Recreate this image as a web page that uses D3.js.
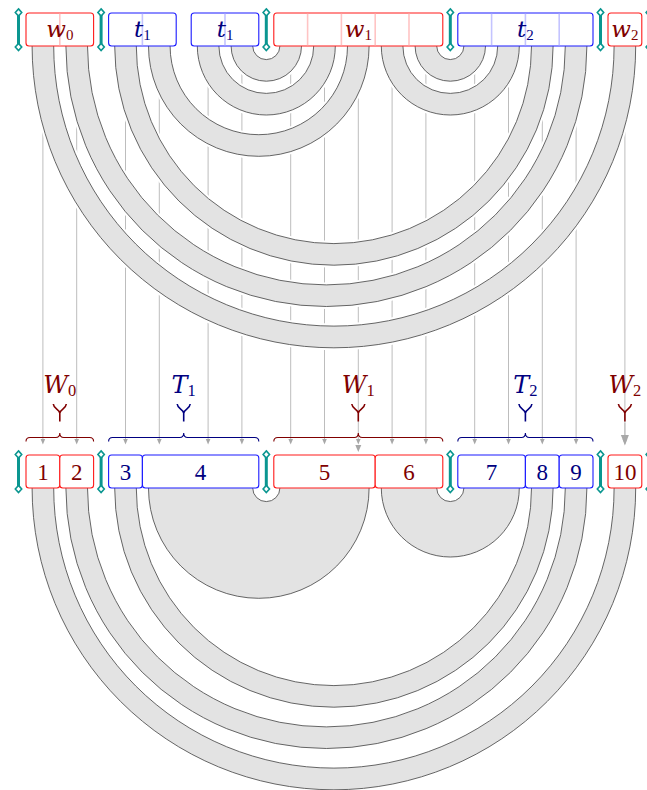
<!DOCTYPE html>
<html><head><meta charset="utf-8">
<script src="https://cdn.jsdelivr.net/npm/d3@7"></script>
<style>body{margin:0;background:#fff}svg{display:block}</style>
</head><body><svg id="c" width="647" height="790"></svg>
<script>
// ---------------- data ----------------
const groupKinds = ["w", "t", "w", "t", "w"];
const groupSubs = ["0", "1", "1", "2", "2"];
const topBlockCells = [[2], [2, 2], [5], [4], [1]];          // cells per top box, per group
const bottomBoxLabels = [["1", "2"], ["3", "4"], ["5", "6"], ["7", "8", "9"], ["10"]];
const bottomBoxCells = [[1, 1], [1, 3], [3, 2], [2, 1, 1], [1]]; // cells per bottom box
const topLinks = [[0, 15], [1, 14], [2, 13], [3, 8], [4, 7], [5, 6], [9, 12], [10, 11]];
const bottomLinks = [[[0, 0], [15, 15]], [[1, 1], [14, 14]], [[2, 2], [13, 13]], [[3, 5], [6, 8]], [[9, 10], [11, 12]]];

// ---------------- layout ----------------
const GAP = 15 / 33.8;
const cells = [];   // {u0, group}
const blocks = [];  // {u0,u1,group}
const groupsU = []; // {u0,u1}
const bracketsU = [];
let pos = 0;
topBlockCells.forEach((bl, g) => {
  const gStart = pos;
  bracketsU.push(pos - GAP / 2);
  bl.forEach((n, b) => {
    const bStart = pos;
    for (let i = 0; i < n; i++) { cells.push({ u0: pos, group: g }); pos += 1; }
    blocks.push({ u0: bStart, u1: pos, group: g });
    if (b < bl.length - 1) pos += GAP;
  });
  groupsU.push({ u0: gStart, u1: pos });
  pos += GAP;
});
pos -= GAP;
bracketsU.push(pos + GAP / 2);
const total = pos;

const x = d3.scaleLinear().domain([0, total]).range([26, 641.8]);
const cx = i => x(cells[i].u0 + 0.5);
const HW = 10.8;
const topY0 = 13, topY1 = 46, botY0 = 455, botY1 = 488;
const RED = "#ff1a1a", BLUE = "#1a1aff", DRED = "#800000", DBLUE = "#000080";
const TEAL = "#0a9690";
const kindStroke = k => k === "w" ? RED : BLUE;
const kindText = k => k === "w" ? DRED : DBLUE;
const kindFaint = k => k === "w" ? "#ffc4c4" : "#c4c4ff";

const svg = d3.select("#c");
const FONT = "'Liberation Serif', 'Times New Roman', serif";
const MATH = "'DejaVu Serif', serif";

// ---------------- vertical guide lines ----------------
const gLines = svg.append("g");
cells.forEach((c, i) => {
  gLines.append("line").attr("x1", cx(i)).attr("x2", cx(i))
    .attr("y1", topY1).attr("y2", 440)
    .attr("stroke", "#bdbdbd").attr("stroke-width", 1);
  gLines.append("path")
    .attr("d", `M${cx(i) - 2.3},439 L${cx(i) + 2.3},439 L${cx(i)},444.5 Z`)
    .attr("fill", "#a8a8a8");
});

// ---------------- band helpers ----------------
function bandShape(y, a0, a1, b0, b1) {
  const ol = cx(a0) - HW, or = cx(b1) + HW;
  const il = cx(a1) + HW, ir = cx(b0) - HW;
  const R = (or - ol) / 2, r = (ir - il) / 2;
  const outer = `M${ol},${y} A${R},${R} 0 0 0 ${or},${y}`;
  const inner = `M${il},${y} A${r},${r} 0 0 0 ${ir},${y}`;
  return { outer, inner, fill: `M${ol},${y} A${R},${R} 0 0 0 ${or},${y} L${ir},${y} A${r},${r} 0 0 1 ${il},${y} Z` };
}
function drawBands(list, y) {
  const shapes = list.map(l => bandShape(y, l[0][0], l[0][1], l[1][0], l[1][1]));
  const g = svg.append("g");
  shapes.forEach(s => {
    g.append("path").attr("d", s.outer).attr("fill", "none").attr("stroke", "#fff").attr("stroke-width", 5);
    g.append("path").attr("d", s.inner).attr("fill", "none").attr("stroke", "#fff").attr("stroke-width", 5);
  });
  shapes.forEach(s => {
    g.append("path").attr("d", s.fill).attr("fill", "#e3e3e3").attr("stroke", "none");
  });
  shapes.forEach(s => {
    g.append("path").attr("d", s.outer).attr("fill", "none").attr("stroke", "#555").attr("stroke-width", 0.9);
    g.append("path").attr("d", s.inner).attr("fill", "none").attr("stroke", "#555").attr("stroke-width", 0.9);
  });
}
drawBands(topLinks.map(l => [[l[0], l[0]], [l[1], l[1]]]), topY1);
drawBands(bottomLinks, botY1);

// ---------------- brackets ----------------
function bracket(xp, y0, y1) {
  const g = svg.append("g");
  g.append("line").attr("x1", xp).attr("x2", xp).attr("y1", y0).attr("y2", y1)
    .attr("stroke", TEAL).attr("stroke-width", 3);
  [y0, y1].forEach(yy => {
    g.append("path").attr("d", `M${xp},${yy - 3.6} L${xp + 3.2},${yy} L${xp},${yy + 3.6} L${xp - 3.2},${yy} Z`)
      .attr("fill", "#fff").attr("stroke", TEAL).attr("stroke-width", 1.6);
  });
}

// ---------------- top boxes ----------------
const gTop = svg.append("g");
blocks.forEach(b => {
  const k = groupKinds[b.group];
  const x0 = x(b.u0), x1 = x(b.u1);
  gTop.append("rect").attr("x", x0).attr("y", topY0).attr("width", x1 - x0).attr("height", topY1 - topY0)
    .attr("rx", 3).attr("fill", "#fff").attr("stroke", kindStroke(k)).attr("stroke-width", 1.1);
  for (let u = b.u0 + 1; u < b.u1 - 0.01; u++) {
    gTop.append("line").attr("x1", x(u)).attr("x2", x(u)).attr("y1", topY0 + 0.8).attr("y2", topY1 - 0.8)
      .attr("stroke", kindFaint(k)).attr("stroke-width", 1.6);
  }
  const t = gTop.append("text").attr("x", (x0 + x1) / 2).attr("y", 37)
    .attr("text-anchor", "middle").attr("fill", kindText(k));
  t.append("tspan").attr("font-family", MATH).attr("font-style", "italic").attr("font-size", 23).text(k);
  t.append("tspan").attr("font-family", FONT).attr("font-size", 15).attr("dy", 2.5).text(groupSubs[b.group]);
});
bracketsU.forEach(u => bracket(x(u), 12.5, 47));

// ---------------- group labels, braces ----------------
const gMid = svg.append("g");
groupsU.forEach((gr, g) => {
  const k = groupKinds[g];
  const col = kindText(k);
  const x0 = x(gr.u0), x1 = x(gr.u1), xm = (x0 + x1) / 2;
  const t = gMid.append("text").attr("x", xm).attr("y", 392.5)
    .attr("text-anchor", "middle").attr("fill", col);
  t.append("tspan").attr("font-family", MATH).attr("font-style", "italic").attr("font-size", 24).text(k.toUpperCase());
  t.append("tspan").attr("font-family", FONT).attr("font-size", 16.5).attr("dy", 3).text(groupSubs[g]);
  // upsilon-like connector
  const yc = 412.5;
  gMid.append("path")
    .attr("d", `M${xm - 6.5},${yc - 8.5} C${xm - 6},${yc - 3.5} ${xm - 1},${yc - 3.5} ${xm},${yc + 0.5} C${xm + 1},${yc - 3.5} ${xm + 6},${yc - 3.5} ${xm + 6.5},${yc - 8.5} M${xm},${yc + 0.5} L${xm},${yc + 9}`)
    .attr("fill", "none").attr("stroke", col).attr("stroke-width", 1.6);
  const nCells = cells.filter(c => c.group === g).length;
  if (nCells > 1) {
    const yb = 437.5;
    gMid.append("path")
      .attr("d", `M${x0},${yb + 4} Q${x0},${yb} ${x0 + 4},${yb} L${xm - 4},${yb} Q${xm},${yb} ${xm},${yb - 4.5} Q${xm},${yb} ${xm + 4},${yb} L${x1 - 4},${yb} Q${x1},${yb} ${x1},${yb + 4}`)
      .attr("fill", "none").attr("stroke", col).attr("stroke-width", 1.1);
    if (nCells % 2 === 1) {
      gMid.append("path").attr("d", `M${xm - 3},445 L${xm + 3},445 L${xm},452 Z`).attr("fill", "#a8a8a8");
    }
  } else {
    gMid.append("line").attr("x1", xm).attr("x2", xm).attr("y1", 423).attr("y2", 437)
      .attr("stroke", "#bdbdbd").attr("stroke-width", 1);
    gMid.append("path").attr("d", `M${xm - 4},435 L${xm + 4},435 L${xm},445.5 Z`).attr("fill", "#a8a8a8");
  }
});

// ---------------- bottom boxes ----------------
const gBot = svg.append("g");
let ci = 0;
bottomBoxCells.forEach((bl, g) => {
  const k = groupKinds[g];
  bl.forEach((n, b) => {
    const x0 = x(cells[ci].u0), x1 = x(cells[ci + n - 1].u0 + 1);
    gBot.append("rect").attr("x", x0).attr("y", botY0).attr("width", x1 - x0).attr("height", botY1 - botY0)
      .attr("rx", 3).attr("fill", "#fff").attr("stroke", kindStroke(k)).attr("stroke-width", 1.1);
    gBot.append("text").attr("x", (x0 + x1) / 2).attr("y", 479.5)
      .attr("text-anchor", "middle").attr("font-family", FONT).attr("font-size", 23)
      .attr("fill", kindText(k)).text(bottomBoxLabels[g][b]);
    ci += n;
  });
});
bracketsU.forEach(u => bracket(x(u), 454.5, 489));
</script></body></html>
